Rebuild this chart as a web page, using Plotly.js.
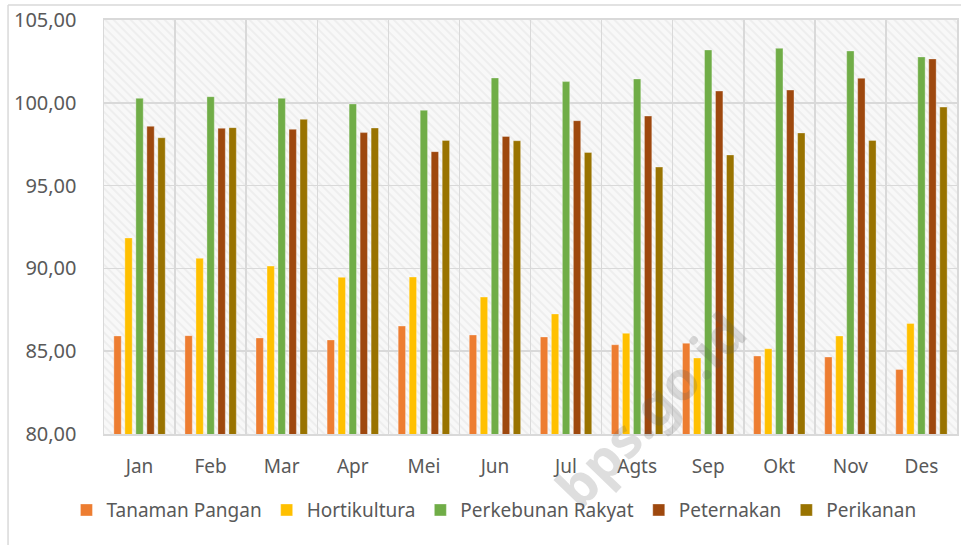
<!DOCTYPE html>
<html>
<head>
<meta charset="utf-8">
<script src="https://cdn.plot.ly/plotly-3.0.1.min.js"></script>
<style>html,body{margin:0;padding:0;background:#fff;}#chart{width:961px;height:545px;}</style>
</head>
<body>
<div id="chart"></div>
<script>
const months = ["Jan","Feb","Mar","Apr","Mei","Jun","Jul","Agts","Sep","Okt","Nov","Des"];
const tanamanPangan = [85.92,85.94,85.80,85.68,86.52,85.98,85.86,85.39,85.48,84.71,84.65,83.90];
const hortikultura = [91.84,90.61,90.14,89.46,89.48,88.27,87.25,86.08,84.59,85.15,85.92,86.68];
const perkebunanRakyat = [100.27,100.37,100.27,99.93,99.55,101.50,101.28,101.44,103.19,103.29,103.13,102.77];
const peternakan = [98.58,98.46,98.40,98.20,97.05,97.97,98.92,99.20,100.71,100.77,101.48,102.65];
const perikanan = [97.89,98.50,99.00,98.48,97.73,97.71,97.00,96.12,96.85,98.18,97.73,99.74];
const seriesNames = ["Tanaman Pangan","Hortikultura","Perkebunan Rakyat","Peternakan","Perikanan"];
const yTicks = [80,85,90,95,100,105];

const colors = ["#ED7D31","#FFC000","#70AD47","#9E480E","#997300"];
const allSeries = [tanamanPangan, hortikultura, perkebunanRakyat, peternakan, perikanan];
const FONT = "Noto Sans, Open Sans, sans-serif";

const traces = allSeries.map((vals, i) => ({
  type: "bar",
  name: seriesNames[i],
  x: months,
  y: vals,
  marker: {color: colors[i], line: {color: "rgba(255,255,255,0.55)", width: 0.6}},
  hoverinfo: "x+y+name"
}));

const svg = '<svg xmlns="http://www.w3.org/2000/svg" width="853" height="414">' +
  '<defs><pattern id="p" width="6" height="6" patternUnits="userSpaceOnUse" patternTransform="rotate(-45)">' +
  '<rect width="6" height="6" fill="#f8f8f8"/><rect width="2" height="6" fill="#eeeeee"/></pattern></defs>' +
  '<rect width="853" height="414" fill="url(#p)"/></svg>';
const bgUri = "data:image/svg+xml;charset=utf-8," + encodeURIComponent(svg);

const layout = {
  width: 961, height: 545,
  margin: {l: 104, r: 4, t: 20, b: 111},
  paper_bgcolor: "#ffffff",
  plot_bgcolor: "rgba(0,0,0,0)",
  barmode: "group",
  bargap: 0.226,
  bargroupgap: 0.33,
  showlegend: true,
  font: {family: FONT, color: "#595959", size: 19},
  xaxis: {
    type: "category",
    tickson: "boundaries",
    showgrid: true, gridcolor: "#d9d9d9", gridwidth: 1.5,
    showline: true, linecolor: "#d9d9d9", linewidth: 2, mirror: true,
    ticks: "", ticklabelstandoff: 14,
    tickfont: {family: FONT, size: 19, color: "#595959"},
    zeroline: false, fixedrange: true
  },
  yaxis: {
    range: [80, 105],
    tickvals: yTicks,
    tickformat: ".2f",
    showgrid: true, gridcolor: "#d9d9d9", gridwidth: 1.5,
    showline: true, linecolor: "#d9d9d9", linewidth: 1.5, mirror: true,
    ticks: "", ticklabelstandoff: 22,
    tickfont: {family: FONT, size: 20, color: "#595959"},
    zeroline: false, fixedrange: true
  },
  separators: ",.",
  legend: {
    orientation: "h",
    xref: "container", yref: "container",
    x: 0.514, xanchor: "center",
    y: 0.064, yanchor: "middle",
    font: {family: FONT, size: 19, color: "#595959"},
    itemwidth: 30,
    traceorder: "normal",
    bgcolor: "rgba(0,0,0,0)"
  },
  images: [{
    source: bgUri, xref: "paper", yref: "paper",
    x: 0, y: 1, sizex: 1, sizey: 1,
    xanchor: "left", yanchor: "top",
    sizing: "stretch", layer: "below"
  }],
  shapes: [
    {type: "line", xref: "paper", yref: "paper", x0: -0.1125, x1: 1.01, y0: 1.036, y1: 1.036, line: {color: "#d9d9d9", width: 1.5}},
    {type: "line", xref: "paper", yref: "paper", x0: -0.1125, x1: -0.1125, y0: 1.036, y1: -0.3, line: {color: "#d9d9d9", width: 1.5}}
  ],
  annotations: [{
    text: "<b>bps.go.id</b>", xref: "paper", yref: "paper",
    x: 0.64, y: 0.06, xanchor: "center", yanchor: "middle",
    showarrow: false, textangle: -46,
    font: {family: FONT, size: 54, color: "rgba(90,90,90,0.2)"}
  }]
};

Plotly.newPlot("chart", traces, layout, {displayModeBar: false, staticPlot: true});
</script>
</body>
</html>
